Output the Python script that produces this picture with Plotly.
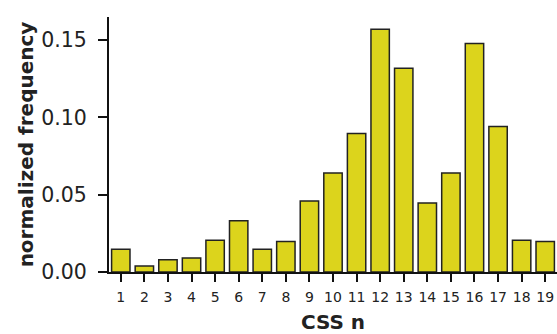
import plotly.graph_objects as go

css_n = list(range(1, 20))
tick_labels = [str(i) for i in css_n]
freq = [0.0147, 0.0039, 0.0080, 0.0091, 0.0206, 0.0331, 0.0147, 0.0197, 0.0459,
        0.0641, 0.0896, 0.1570, 0.1318, 0.0446, 0.0641, 0.1478, 0.0942, 0.0206, 0.0197]

fig = go.Figure()
fig.add_trace(go.Bar(
    x=css_n, y=freq, width=0.78,
    marker=dict(color="#dcd41c", line=dict(color="#222222", width=1.5)),
))

fig.update_layout(
    width=557, height=334,
    margin=dict(l=109, r=0, t=17, b=62),
    paper_bgcolor="white", plot_bgcolor="white",
    showlegend=False,
    font=dict(family="DejaVu Sans", color="#222222"),
    xaxis=dict(
        range=[0.5, 19.5], tickvals=css_n, ticktext=tick_labels,
        showline=True, linecolor="#111111", linewidth=2,
        ticks="outside", ticklen=8, tickwidth=2, tickcolor="#111111",
        tickfont=dict(size=14), ticklabelstandoff=3,
        showgrid=False, zeroline=False,
        title=dict(text="<b>CSS n</b>", font=dict(size=20), standoff=15),
    ),
    yaxis=dict(
        range=[0, 0.165], tickvals=[0, 0.05, 0.10, 0.15],
        ticktext=["0.00", "0.05", "0.10", "0.15"],
        showline=True, linecolor="#111111", linewidth=2,
        ticks="outside", ticklen=9, tickwidth=2, tickcolor="#111111",
        tickfont=dict(size=20.5), ticklabelstandoff=7,
        showgrid=False, zeroline=False,
        title=dict(text="<b>normalized frequency</b>", font=dict(size=20), standoff=2),
    ),
)

fig.write_html("out.html", config={"displayModeBar": False},
               post_script="document.body.style.margin='0';")
